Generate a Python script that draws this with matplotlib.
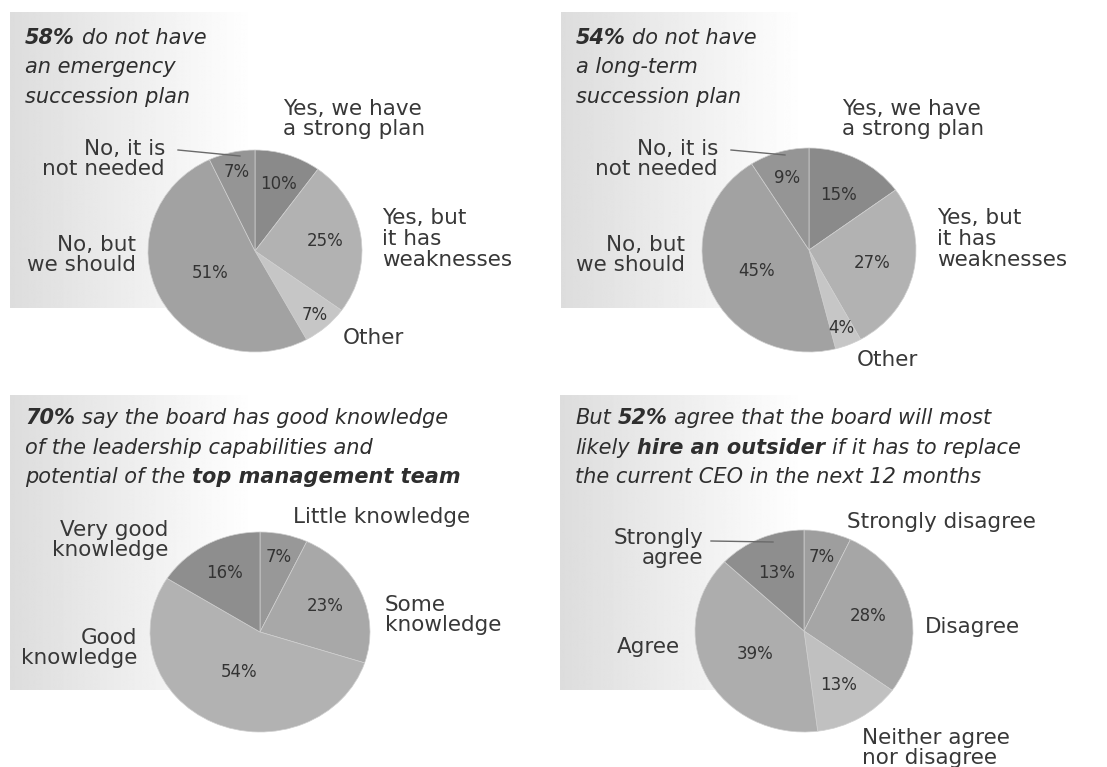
import numpy as np
import matplotlib

matplotlib.use('Agg')

import matplotlib.pyplot as plt

# --- data -----------------------------------------------------------------
p1_labels = ['Yes, we have\na strong plan', 'Yes, but\nit has\nweaknesses', 'Other',
             'No, but\nwe should', 'No, it is\nnot needed']
p1_values = [10, 25, 7, 51, 7]

p2_labels = ['Yes, we have\na strong plan', 'Yes, but\nit has\nweaknesses', 'Other',
             'No, but\nwe should', 'No, it is\nnot needed']
p2_values = [15, 27, 4, 45, 9]

p3_labels = ['Little knowledge', 'Some\nknowledge', 'Good\nknowledge', 'Very good\nknowledge']
p3_values = [7, 23, 54, 16]

p4_labels = ['Strongly disagree', 'Disagree', 'Neither agree\nnor disagree', 'Agree',
             'Strongly\nagree']
p4_values = [7, 28, 13, 39, 13]

p1_title = [[('58%', True), (' do not have', False)],
            [('an emergency', False)],
            [('succession plan', False)]]
p2_title = [[('54%', True), (' do not have', False)],
            [('a long-term', False)],
            [('succession plan', False)]]
p3_title = [[('70%', True), (' say the board has good knowledge', False)],
            [('of the leadership capabilities and', False)],
            [('potential of the', False), (' top management team', True)]]
p4_title = [[('But', False), (' 52%', True), (' agree that the board will most', False)],
            [('likely', False), (' hire an outsider', True), (' if it has to replace', False)],
            [('the current CEO in the next 12 months', False)]]

# --- layout ---------------------------------------------------------------
W, H = 1107, 767
TEXT = '#383838'
TITLE_SIZE = 15
LABEL_SIZE = 15.5
PCT_SIZE = 12

panels = [
    dict(values=p1_values, labels=p1_labels, title=p1_title,
         colors=['#8a8a8a', '#b2b2b2', '#c6c6c6', '#a2a2a2', '#959595'],
         pie=(255, 251, 107, 101), box=(10, 12, 255, 308), title_y=(38, 67, 97),
         pct_r=[0.70, 0.66, 0.84, 0.47, 0.80],
         label_pos=[(283, 119, 'left'), (382, 239, 'left'), (343, 338, 'left'),
                    (136, 255, 'right'), (165, 159, 'right')],
         leader=((178, 150), (240, 156))),
    dict(values=p2_values, labels=p2_labels, title=p2_title,
         colors=['#8a8a8a', '#b2b2b2', '#c6c6c6', '#a2a2a2', '#959595'],
         pie=(809, 250, 107, 102), box=(561, 12, 805, 308), title_y=(38, 67, 97),
         pct_r=[0.60, 0.60, 0.82, 0.53, 0.73],
         label_pos=[(842, 119, 'left'), (937, 239, 'left'), (857, 360, 'left'),
                    (685, 255, 'right'), (718, 159, 'right')],
         leader=((731, 150), (785, 155))),
    dict(values=p3_values, labels=p3_labels, title=p3_title,
         colors=['#989898', '#a8a8a8', '#b2b2b2', '#8e8e8e'],
         pie=(260, 632, 110, 100), box=(10, 395, 255, 690), title_y=(418, 448, 477),
         pct_r=[0.77, 0.65, 0.44, 0.67],
         label_pos=[(293, 517, 'left'), (385, 615, 'left'), (137, 648, 'right'),
                    (168, 540, 'right')],
         leader=None),
    dict(values=p4_values, labels=p4_labels, title=p4_title,
         colors=['#9e9e9e', '#a6a6a6', '#c0c0c0', '#adadad', '#8e8e8e'],
         pie=(804, 631, 109, 101), box=(560, 395, 805, 690), title_y=(418, 448, 477),
         pct_r=[0.75, 0.61, 0.62, 0.50, 0.63],
         label_pos=[(847, 522, 'left'), (925, 627, 'left'), (862, 748, 'left'),
                    (680, 647, 'right'), (703, 548, 'right')],
         leader=((711, 541), (773, 542))),
]

fig = plt.figure(figsize=(W / 100, H / 100), dpi=100)
fig.patch.set_facecolor('white')

# background axes in pixel coordinates (gradient boxes)
bg = fig.add_axes([0, 0, 1, 1], zorder=0)
bg.set_xlim(0, W)
bg.set_ylim(H, 0)
bg.axis('off')

# overlay axes for text and leader lines
ov = fig.add_axes([0, 0, 1, 1], zorder=3)
ov.set_xlim(0, W)
ov.set_ylim(H, 0)
ov.axis('off')
ov.patch.set_alpha(0)

renderer = fig.canvas.get_renderer()


def text_width(s, bold):
    t = ov.text(0, 0, s, fontsize=TITLE_SIZE, style='italic',
                fontweight='bold' if bold else 'normal')
    w = t.get_window_extent(renderer).width
    t.remove()
    return w


def draw_title(lines, x0, ys):
    for runs, y in zip(lines, ys):
        x = x0
        for s, bold in runs:
            if s.startswith(' '):
                x += text_width('a a', bold) - text_width('aa', bold)
                s = s.lstrip()
            t = ov.text(x, y, s, fontsize=TITLE_SIZE, style='italic', color='#2e2e2e',
                        fontweight='bold' if bold else 'normal', ha='left', va='center')
            x += t.get_window_extent(renderer).width


for p in panels:
    # gradient box
    x0, y0, x1, y1 = p['box']
    grad = np.linspace(0.865, 1.0, 256).reshape(1, -1)
    bg.imshow(grad, cmap='gray', vmin=0, vmax=1, aspect='auto',
              extent=[x0, x1, y1, y0], interpolation='bilinear')

    # pie
    cx, cy, rx, ry = p['pie']
    ax = fig.add_axes([(cx - rx) / W, (H - cy - ry) / H, 2 * rx / W, 2 * ry / H], zorder=1)
    wedges, _, autotexts = ax.pie(
        p['values'], colors=p['colors'], startangle=90, counterclock=False,
        radius=1, autopct='%d%%',
        wedgeprops=dict(edgecolor='#cfcfcf', linewidth=0.5),
        textprops=dict(fontsize=PCT_SIZE, color='#333333'))
    ax.set_aspect('auto')
    ax.set_xlim(-1, 1)
    ax.set_ylim(-1, 1)
    ax.axis('off')
    for w, at, r in zip(wedges, autotexts, p['pct_r']):
        mid = np.deg2rad((w.theta1 + w.theta2) / 2)
        at.set_position((r * np.cos(mid), r * np.sin(mid)))
        at.set_ha('center')
        at.set_va('center')

    # outside labels
    for lab, (lx, ly, ha) in zip(p['labels'], p['label_pos']):
        ov.text(lx, ly, lab, fontsize=LABEL_SIZE, color=TEXT, ha=ha, va='center',
                linespacing=1.05)

    if p['leader']:
        (ax0, ay0), (ax1, ay1) = p['leader']
        ov.plot([ax0, ax1], [ay0, ay1], color='#6a6a6a', lw=1.0)

    draw_title(p['title'], x0 + 15, p['title_y'])

fig.savefig('out.png', dpi=100)
